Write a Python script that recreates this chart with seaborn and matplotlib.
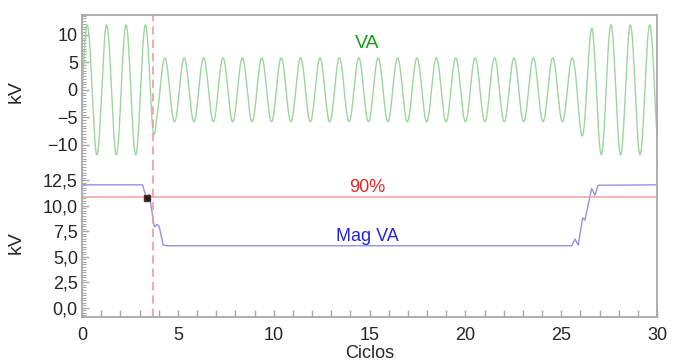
import numpy as np
import pandas as pd
import matplotlib
matplotlib.use('Agg')
import matplotlib.pyplot as plt
from matplotlib.ticker import MultipleLocator, FuncFormatter
import seaborn as sns

# --- data ---
# instantaneous waveform VA: peak envelope (cycle, kV) and carrier period
env_cycles = [0.0, 3.6, 3.9, 25.7, 26.12, 26.62, 27.1, 30.0]
env_kv = [11.8, 11.8, 5.8, 5.8, 8.6, 11.3, 11.8, 11.8]
wave_period = 1.012
wave_phase = 0.02

# magnitude of VA (cycle, kV)
mag_cycles = [0.0, 3.16, 3.34, 3.51, 3.77, 3.93, 4.03, 4.24, 4.42,
              25.55, 25.72, 25.89, 26.12, 26.24, 26.59, 26.76, 26.93, 30.0]
mag_kv = [12.05, 12.05, 10.87, 11.1, 7.94, 8.17, 7.94, 6.15, 6.08,
          6.08, 6.74, 6.15, 8.82, 8.59, 11.69, 11.04, 12.01, 12.05]

threshold_kv = 10.85  # 90 %
event_cycle = 3.72
cross_point = (3.41, 10.8)

sns.set_theme(style="white")
plt.rcParams['font.family'] = ['Liberation Sans', 'DejaVu Sans']
plt.rcParams['axes.unicode_minus'] = True

spine_col = '#a8a8a8'
t = np.linspace(0, 30, 6000)
wave = np.interp(t, env_cycles, env_kv) * np.sin(2 * np.pi * (t - wave_phase) / wave_period)
df_wave = pd.DataFrame({'ciclos': t, 'kv': wave})
df_mag = pd.DataFrame({'ciclos': mag_cycles, 'kv': mag_kv})

fig = plt.figure(figsize=(6.81, 3.64), dpi=100)
ax1 = fig.add_axes([82 / 681, 1 - 168 / 364, 575 / 681, 153 / 364])
ax2 = fig.add_axes([82 / 681, 1 - 317 / 364, 575 / 681, 149 / 364], sharex=ax1)

sns.lineplot(data=df_wave, x='ciclos', y='kv', ax=ax1, color='#9dd69d', lw=1.0)
sns.lineplot(data=df_mag, x='ciclos', y='kv', ax=ax2, color='#9292e2', lw=1.0)
ax2.axhline(threshold_kv, color='#f2a8a8', lw=1.2)
ax2.plot(*cross_point, marker='s', ms=4, color='#222222', mec='#553322')
for ax in (ax1, ax2):
    ax.axvline(event_cycle, color='#f59898', lw=1.2, dashes=(5, 3))

ax1.text(14.9, 8.4, 'VA', color='#1e9a1e', fontsize=14, ha='center', va='center')
ax2.text(14.9, 11.8, '90%', color='#e02828', fontsize=13, ha='center', va='center')
ax2.text(14.9, 7.0, 'Mag VA', color='#2424dd', fontsize=13, ha='center', va='center')

ax1.set_xlim(0, 30)
ax1.set_ylim(-14.2, 13.6)
ax2.set_ylim(-0.9, 13.7)

ax1.yaxis.set_major_locator(MultipleLocator(5))
ax1.yaxis.set_minor_locator(MultipleLocator(0.5))
ax2.yaxis.set_major_locator(MultipleLocator(2.5))
ax2.yaxis.set_minor_locator(MultipleLocator(0.25))
ax2.yaxis.set_major_formatter(FuncFormatter(lambda v, p: f'{v:.1f}'.replace('.', ',')))
ax2.xaxis.set_major_locator(MultipleLocator(5))
ax2.xaxis.set_minor_locator(MultipleLocator(1))

for ax in (ax1, ax2):
    ax.set_ylabel('kV', fontsize=14)
    ax.yaxis.set_label_coords(-0.1, 0.5)
    for s in ax.spines.values():
        s.set_color(spine_col)
        s.set_linewidth(1.3)
    ax.tick_params(axis='y', which='major', direction='in', length=5, width=1,
                   color=spine_col, labelsize=13, pad=3, left=True)
    ax.tick_params(axis='y', which='minor', direction='in', length=3, width=0.8,
                   color=spine_col, left=True)
ax1.spines['bottom'].set_visible(False)
ax2.spines['top'].set_visible(False)
ax1.tick_params(axis='x', which='both', bottom=False, labelbottom=False)
ax2.tick_params(axis='x', which='both', direction='in', length=5, width=1,
                color=spine_col, labelsize=13, bottom=True, pad=7)
ax1.set_xlabel('')
ax2.set_xlabel('Ciclos', fontsize=13, labelpad=1)

fig.savefig('out.png', dpi=100)
